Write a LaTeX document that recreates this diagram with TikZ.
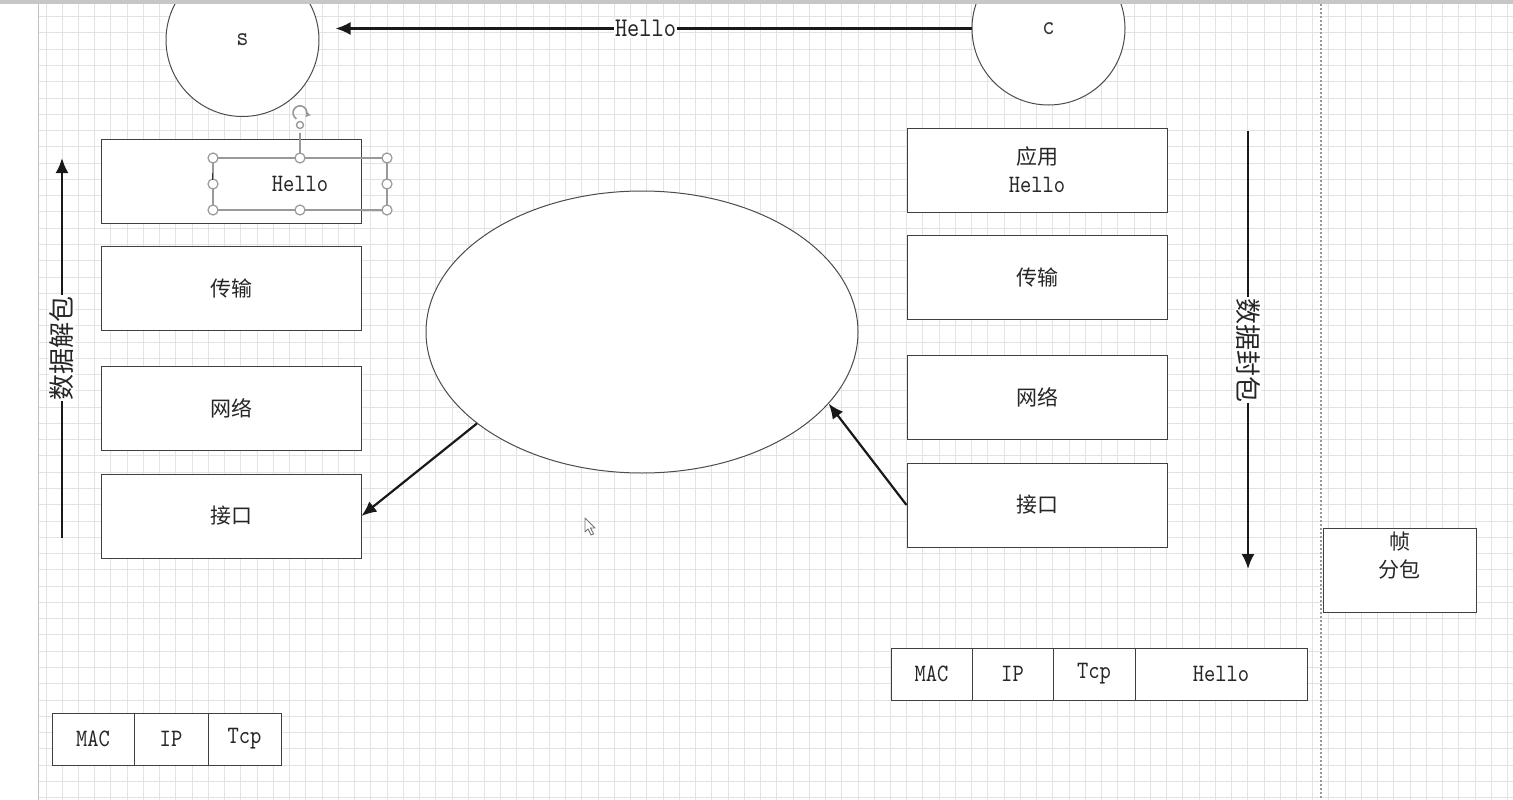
\documentclass[tikz,border=0pt]{standalone}
\usepackage{fontspec}
\newfontfamily\cjk{Noto Sans CJK SC}
\newfontfamily\enfam[FakeStretch=0.86]{lmmono10-regular.otf}
\usetikzlibrary{arrows.meta,shapes.geometric}
\newcommand\zhf{\cjk\fontsize{21}{28}\selectfont}
\newcommand\enf{\enfam\fontsize{25}{28}\selectfont}
\begin{document}
\begin{tikzpicture}[x=1pt,y=-1pt,
  gridline/.style={draw=black!11, line width=1pt},
  box/.style={draw=black!75, fill=white, line width=1pt, minimum width=260pt, minimum height=84pt, inner sep=0pt, text=black!85, font=\zhf, align=center},
  cell/.style={draw=black!75, fill=white, line width=1pt, minimum height=52pt, inner sep=0pt, text=black!85, font=\enf},
  arr/.style={-{Latex[length=15pt,width=13pt]}, line width=2.2pt, draw=black!90},
  circ/.style={circle, draw=black!70, fill=white, line width=1pt, minimum size=153pt, inner sep=0pt, text=black!80, font=\enfam\fontsize{27}{28}\selectfont},
  handle/.style={draw=black!40, fill=white, line width=1.2pt},
  vlabel/.style={fill=white, inner sep=1pt, text=black!85, font=\cjk\fontsize{26}{28}\selectfont}
]
\useasboundingbox (0,0) rectangle (1513,800);
\clip (0,0) rectangle (1513,800);
\fill[white] (0,0) rectangle (1513,800);
% grid
\foreach \i in {0,...,90} \draw[gridline] ({46+16.24*\i},4) -- ({46+16.24*\i},800);
\foreach \j in {0,...,48} \draw[gridline] (38,{16.7+16.27*\j}) -- (1513,{16.7+16.27*\j});
\draw[black!25, line width=1pt] (38,4) -- (38,800);
\draw[black!40, line width=1.5pt, dash pattern=on 2pt off 2pt] (1321,4) -- (1321,800);

% circles
\node[circ] (s) at (242.5,40) {s};
\node[circ] (c) at (1048.5,28.5) {c};
\draw[arr, shorten >=16pt] (c.west) -- node[fill=white, inner sep=1pt, text=black!85, font=\enfam\fontsize{27}{28}\selectfont] {Hello} (s.east |- c.west);

% left stack
\node[box] (l1) at (231,181) {};
\node[box] (l2) at (231,288) {传输};
\node[box] (l3) at (231,408) {网络};
\node[box] (l4) at (231,516) {接口};

% selected text box
\draw[black!40, line width=1.2pt] (213,158) rectangle (387,210);
\draw[black!40, line width=1.2pt] (300,133) -- (300,158);
\node[text=black!85, font=\enf] (hsel) at (300,184) {Hello};
\foreach \p in {(213,158),(300,158),(387,158),(213,184),(387,184),(213,210),(300,210),(387,210)}
  \draw[handle] \p circle[radius=5pt];
\draw[black!40, line width=1.4pt] (300,125) circle[radius=3.5pt];
\draw[black!40, line width=1.6pt, -{Latex[length=5pt,width=6pt]}] (296.5,118.9) arc[start angle=240, end angle=-40, radius=7pt];
\draw[black!80, line width=1pt] (212.5,173) -- (212.5,180);

% right stack
\node[box] (r1) at (1037,170) {应用\\{\enf Hello}};
\node[box] (r2) at (1037,277) {传输};
\node[box] (r3) at (1037,397) {网络};
\node[box] (r4) at (1037,505) {接口};

% ellipse
\node[ellipse, draw=black!70, fill=white, line width=1pt, minimum width=432pt, minimum height=282pt, inner sep=0pt] (ell) at (642,332) {};
\draw[arr] (ell.209.8) -- (l4.east);
\draw[arr] (r4.west) -- (ell.339.7);

% vertical arrows
\coordinate (la) at (62,538);
\coordinate (lb) at (62,158);
\draw[arr] (la) -- node[vlabel, rotate=90] {数据解包} (lb);
\coordinate (ra) at (1248,131);
\coordinate (rb) at (1248,569);
\draw[arr] (ra) -- node[vlabel, rotate=-90] {数据封包} (rb);

% frame box
\node[box, minimum width=153pt] (fr) at (1399.5,570) {};
\node[anchor=north, align=center, inner sep=0pt, text=black!85, font=\zhf] (frt) at (1399.5,532) {帧\\分包};

% packets
\node[cell, minimum width=81pt] (pm) at (931.5,674) {MAC};
\node[cell, minimum width=81pt] (pi) at (1012.5,674) {IP};
\node[cell, minimum width=82pt] (pt) at (1094,674) {Tcp};
\node[cell, minimum width=172pt] (ph) at (1221,674) {Hello};

\node[cell, minimum width=82pt] (qm) at (93,739) {MAC};
\node[cell, minimum width=74pt] (qi) at (171,739) {IP};
\node[cell, minimum width=73pt] (qt) at (244.5,739) {Tcp};

% mouse pointer
\draw[black!55, fill=white, line width=0.9pt, line join=round] (585,518) -- (585,532) -- (588,529) -- (591,535) -- (593.5,534) -- (590.5,528) -- (595,528) -- cycle;

% top ruler band
\fill[black!22] (0,0) rectangle (1513,4);
\end{tikzpicture}
\end{document}
